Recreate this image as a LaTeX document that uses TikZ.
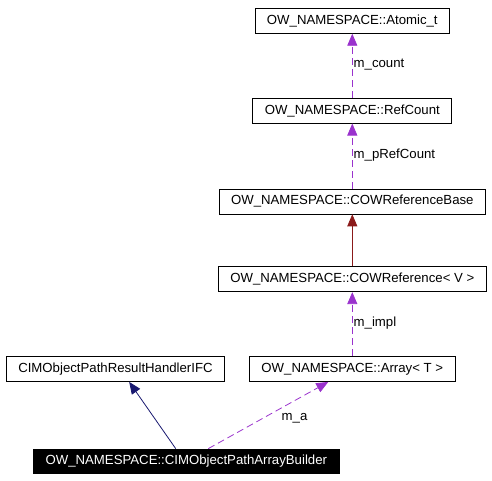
\documentclass[tikz,border=0pt]{standalone}
\usepackage{fontspec}
\setmainfont{Liberation Sans}
\usepackage{xcolor}
\usepackage{tikz}
\usetikzlibrary{positioning,arrows.meta}
\definecolor{usecol}{HTML}{9A32CD}
\definecolor{inhcol}{HTML}{191970}
\definecolor{tplcol}{HTML}{8B1A1A}

\begin{document}
\begin{tikzpicture}[x=1pt, y=1pt, font=\fontsize{13.2}{15}\selectfont,
        >={Triangle[length=12pt,width=10pt]},
        cls/.style={draw, line width=0.8pt, inner xsep=12pt, inner ysep=0pt, minimum height=25pt},
        uses/.style={->, color=usecol, line width=0.8pt, dash pattern=on 7pt off 4pt},
        lbl/.style={right, inner sep=1pt, text=black}]
        \useasboundingbox (0,0) rectangle (492,-480);
        \node [cls] (atomic) at (352.3,-20.8) {OW\_NAMESPACE::Atomic\_t};
        \node [cls, below=64pt of atomic] (refcount) {OW\_NAMESPACE::RefCount};
        \node [cls, below=65pt of refcount] (cowbase) {OW\_NAMESPACE::COWReferenceBase};
        \node [cls, below=52pt of cowbase] (cowref) {OW\_NAMESPACE::COWReference< V >};
        \node [cls, below=64pt of cowref] (array) {OW\_NAMESPACE::Array< T >};
        \node [cls, left=24pt of array] (handler) {CIMObjectPathResultHandlerIFC};
        \node [cls, fill=black, text=white, minimum height=24pt] (builder) at (186.3,-461) {OW\_NAMESPACE::CIMObjectPathArrayBuilder};

        \path[uses] (refcount) edge node [lbl, pos=0.52] {m\_count} (atomic);
        \path[uses] (cowbase) edge node [lbl, pos=0.52] {m\_pRefCount} (refcount);
        \path[->, color=tplcol, line width=0.8pt] (cowref) edge (cowbase);
        \path[uses] (array) edge node [lbl, pos=0.52] {m\_impl} (cowref);
        \path[->, color=inhcol, line width=0.8pt] ([xshift=-10.6pt]builder.north) edge ([xshift=13.7pt]handler.south);
        \path[uses] ([xshift=22pt]builder.north) edge node [lbl, pos=0.6, anchor=north west, yshift=-3pt] {m\_a} ([xshift=-24pt]array.south);
    \end{tikzpicture}
\end{document}
